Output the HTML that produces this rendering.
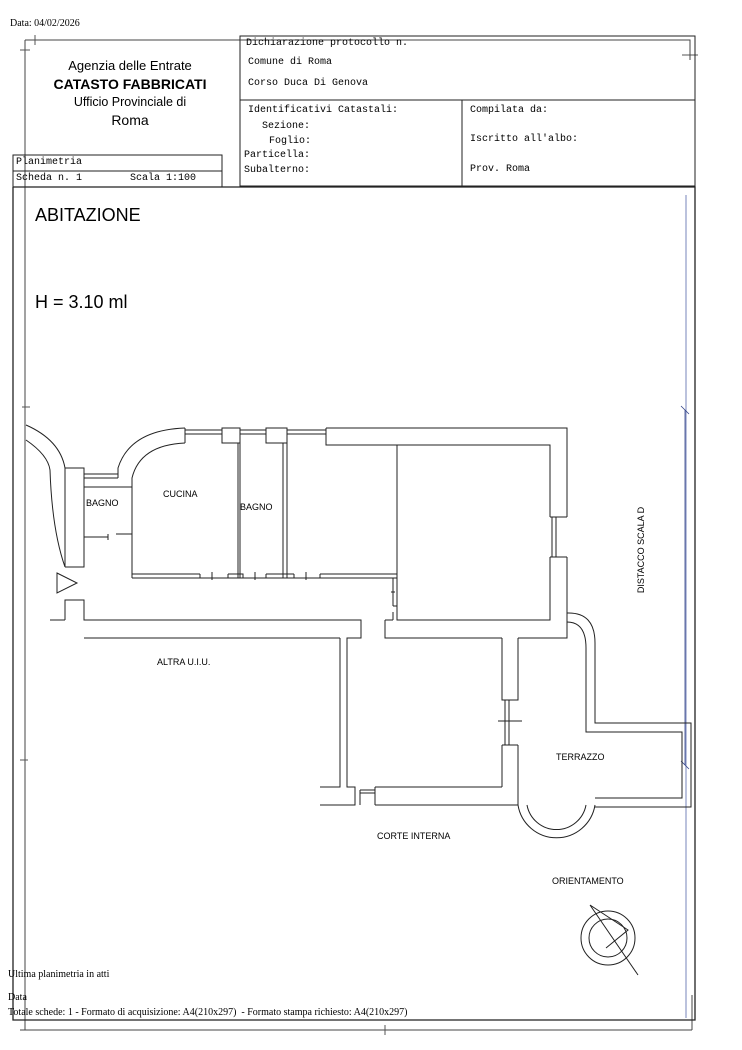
<!DOCTYPE html>
<html><head><meta charset="utf-8"><style>
body{margin:0;background:#fff;width:742px;height:1050px;overflow:hidden;position:relative}
svg{position:absolute;left:0;top:0}
.m{font-family:"Liberation Mono",monospace;font-size:10px}
.s{font-family:"Liberation Sans",sans-serif}
.t{font-family:"Liberation Serif",serif;font-size:10px}
</style></head><body>
<svg width="742" height="1050" viewBox="0 0 742 1050" fill="none" stroke="#222" stroke-width="1">
<!-- paper frame -->
<path d="M25 40 H240 M25 40 V1030 M20 1030 H692 M692 995 V1030" stroke="#444"/>
<path d="M20 50 H30 M35 35 V45 M385 1025 V1035 M682 55 H698 M22 407 H30 M20 760 H28" stroke="#555"/>
<!-- header boxes -->
<rect x="240" y="36" width="455" height="64"/>
<path d="M240 100 V186 H695 V100 M462 100 V186"/>
<path d="M240 40 H690 V60" stroke="#444"/>
<rect x="13" y="155" width="209" height="32"/>
<path d="M13 171 H222"/>
<!-- main frame -->
<path d="M13 187 V1020 H695 V187 H13" stroke-width="1.3"/>
<path d="M686 195 V1018" stroke="#5566aa" stroke-width="0.8"/>
<!-- dimension line right -->
<path d="M685 410 V765 M681 406 L689 414 M681 761 L689 769" stroke="#334488" stroke-width="0.8"/>
<!-- floor plan -->
<g stroke-width="1">
<!-- left arc -->
<path d="M26 425 Q60 440 65 468 V567 M26 440 Q48 455 50 470 Q52 530 65 567" />
<path d="M65 468 H84 V487 M84 537 V567 H65"/>
<path d="M84 474 H118 M84 478 H118 M84 487 H132"/>
<path d="M84 487 V537 M84 537 H108 M108 534 V540 M116 534 H132"/>
<!-- kitchen arc -->
<path d="M185 428 Q130 430 118 468 V478 M185 443 Q140 445 132 478 V578"/>
<path d="M185 428 V443"/>
<path d="M185 430 H222 M185 434 H222 M240 430 H266 M240 434 H266 M287 430 H326 M287 434 H326"/>
<rect x="222" y="428" width="18" height="15"/>
<rect x="266" y="428" width="21" height="15"/>
<path d="M238 443 V578 M240 443 V578 M283 443 V578 M287 443 V578"/>
<!-- kitchen bottom wall -->
<path d="M132 578 H397 M132 574 H200 M200 574 V578 M228 574 H243 V578 M228 574 V578 M266 574 H294 M266 574 V578 M294 574 V578 M320 574 H397 M320 574 V578 M212 572 V580 M255 572 V580 M306 572 V580"/>
<!-- top wall & big room -->
<path d="M326 428 H567 V517 M326 428 V445 H550 V517 M550 517 H567 M552 517 V557 M556 517 V557 M550 557 H567 M550 557 V620 H397 V445 M567 557 V613"/>
<path d="M393 578 V606 M393 606 H397 M391 592 H395 M393 612 V620 M385 620 H393 M385 620 V638 H502 M518 638 H567 V613"/>
<!-- vertical down -->
<path d="M502 638 V700 H518 V638 M505 700 V745 M509 700 V745 M498 721 H522 M502 745 H518 M502 745 V787 M518 745 V805"/>
<!-- corte wall -->
<path d="M375 787 H502 M375 805 H518 M375 787 V805 M360 790 H375 M360 793 H375 M360 790 V805"/>
<!-- left lower corridor -->
<path d="M50 620 H65 M65 620 V600 H84 V620 H361 V638 H347 V787 H355 V805 H320 M340 638 V787 H320 M84 638 H340"/>
<!-- door triangle -->
<path d="M57 573 L77 583 L57 593 Z"/>
<!-- terrazzo -->
<path d="M567 613 Q595 612 595 643 V723 H691 V807 H595 M567 622 Q586 622 586 648 V732 H682 V798 H595"/>
<path d="M518 805 A39 39 0 0 0 595 805 M527 805 A30 30 0 0 0 586 805"/>
</g>
<!-- compass -->
<circle cx="608" cy="938" r="27"/>
<circle cx="608" cy="938" r="19"/>
<path d="M590 905 L638 975 M590 905 L628 930 L606 948"/>
</svg>
<div class="t" style="position:absolute;left:10px;top:18px">Data: 04/02/2026</div>
<div class="s" style="position:absolute;left:30px;top:57px;width:200px;text-align:center;line-height:18px">
<div style="font-size:13px">Agenzia delle Entrate</div>
<div style="font-size:14px;font-weight:bold">CATASTO FABBRICATI</div>
<div style="font-size:12.5px">Ufficio Provinciale di</div>
<div style="font-size:14px">Roma</div></div>
<div class="m" style="position:absolute;left:246px;top:38px">Dichiarazione protocollo n.</div>
<div class="m" style="position:absolute;left:248px;top:57px">Comune di Roma</div>
<div class="m" style="position:absolute;left:248px;top:78px">Corso Duca Di Genova</div>
<div class="m" style="position:absolute;left:248px;top:105px">Identificativi Catastali:</div>
<div class="m" style="position:absolute;left:262px;top:121px">Sezione:</div>
<div class="m" style="position:absolute;left:269px;top:136px">Foglio:</div>
<div class="m" style="position:absolute;left:244px;top:150px">Particella:</div>
<div class="m" style="position:absolute;left:244px;top:165px">Subalterno:</div>
<div class="m" style="position:absolute;left:470px;top:105px">Compilata da:</div>
<div class="m" style="position:absolute;left:470px;top:134px">Iscritto all'albo:</div>
<div class="m" style="position:absolute;left:470px;top:164px">Prov. Roma</div>
<div class="m" style="position:absolute;left:16px;top:157px">Planimetria</div>
<div class="m" style="position:absolute;left:16px;top:173px">Scheda n. 1</div>
<div class="m" style="position:absolute;left:130px;top:173px">Scala 1:100</div>
<div class="s" style="position:absolute;left:35px;top:205px;font-size:18px">ABITAZIONE</div>
<div class="s" style="position:absolute;left:35px;top:292px;font-size:18px">H = 3.10 ml</div>
<div class="s" style="position:absolute;left:86px;top:498px;font-size:9px">BAGNO</div>
<div class="s" style="position:absolute;left:163px;top:489px;font-size:9px">CUCINA</div>
<div class="s" style="position:absolute;left:240px;top:502px;font-size:9px">BAGNO</div>
<div class="s" style="position:absolute;left:157px;top:657px;font-size:9px">ALTRA U.I.U.</div>
<div class="s" style="position:absolute;left:556px;top:752px;font-size:9px">TERRAZZO</div>
<div class="s" style="position:absolute;left:377px;top:831px;font-size:9px">CORTE INTERNA</div>
<div class="s" style="position:absolute;left:552px;top:876px;font-size:9px">ORIENTAMENTO</div>
<div class="s" style="position:absolute;left:598px;top:545px;font-size:9px;transform:rotate(-90deg);white-space:nowrap">DISTACCO SCALA D</div>
<div class="t" style="position:absolute;left:8px;top:969px">Ultima planimetria in atti</div>
<div class="t" style="position:absolute;left:8px;top:992px">Data</div>
<div class="t" style="position:absolute;left:8px;top:1007px">Totale schede: 1 - Formato di acquisizione: A4(210x297)&nbsp; - Formato stampa richiesto: A4(210x297)</div>
</body></html>
